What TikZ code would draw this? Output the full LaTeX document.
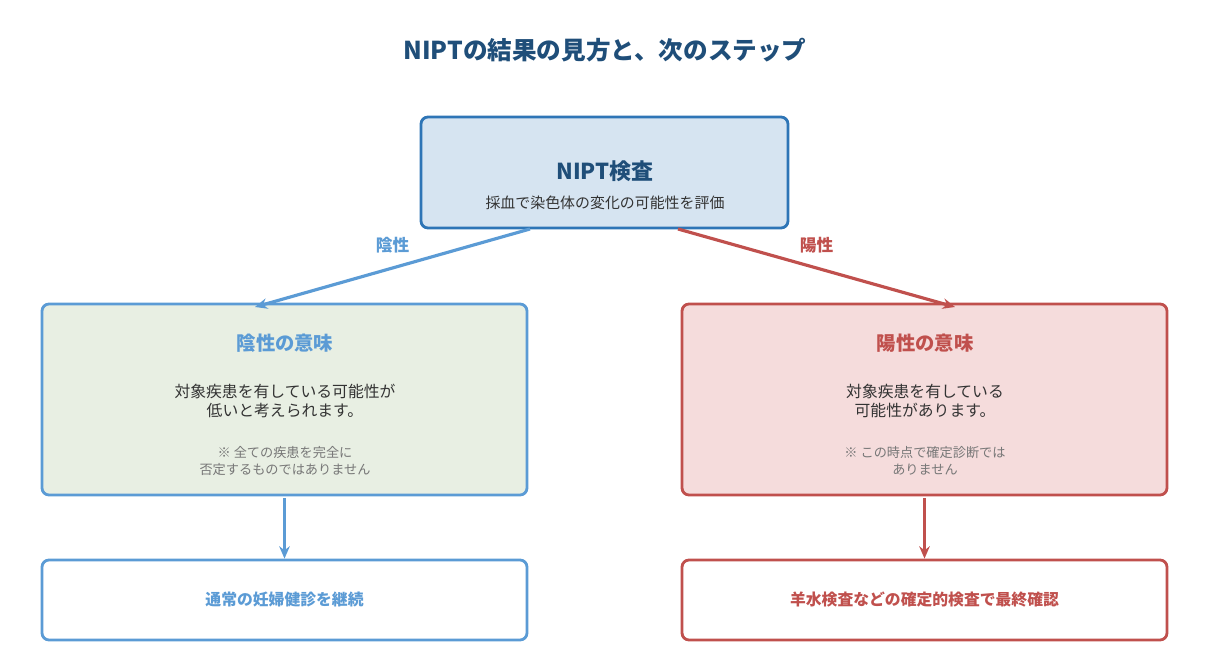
\documentclass[tikz,border=0pt]{standalone}
\usepackage{fontspec}
\setmainfont{Noto Sans CJK JP}
\usetikzlibrary{arrows.meta}
\usetikzlibrary{positioning}
\definecolor{navy}{HTML}{1F4E79}
\definecolor{blueline}{HTML}{2E75B6}
\definecolor{bluefill}{HTML}{D6E4F1}
\definecolor{negline}{HTML}{5B9BD5}
\definecolor{negfill}{HTML}{E8EFE3}
\definecolor{posline}{HTML}{C0504D}
\definecolor{posfill}{HTML}{F5DCDC}
\definecolor{txt}{HTML}{333333}
\definecolor{note}{HTML}{777777}
\begin{document}
\begin{tikzpicture}[x=0.02cm,y=-0.02cm]
\tikzset{box/.style={rectangle,rounded corners=4pt,line width=1.6pt,inner sep=0pt},
  flow/.style={line width=1.8pt,-{Stealth[length=7pt,width=6pt]}}}
\useasboundingbox (0,0) rectangle (1209,655);
\node[font=\bfseries\fontsize{14pt}{16pt}\selectfont,text=navy] (title) at (605,50) {NIPTの結果の見方と、次のステップ};
% top box
\node[box,draw=blueline,fill=bluefill,minimum width=367*0.02cm,minimum height=111*0.02cm] (nipt) at (604.5,172.5) {};
\node[font=\bfseries\fontsize{12.5pt}{14pt}\selectfont,text=navy] (niptT) at (605,171) {NIPT検査};
\node[font=\fontsize{8.5pt}{10pt}\selectfont,text=txt] (niptS) at (605,203) {採血で染色体の変化の可能性を評価};
% result boxes
\node[box,draw=negline,fill=negfill,minimum width=485*0.02cm,minimum height=191*0.02cm] (neg) at (284.5,399.5) {};
\node[box,draw=posline,fill=posfill,minimum width=485*0.02cm,minimum height=191*0.02cm] (pos) at (924.5,399.5) {};
\node[font=\bfseries\fontsize{11pt}{13pt}\selectfont,text=negline] (negT) at (285,343) {陰性の意味};
\node[font=\bfseries\fontsize{11pt}{13pt}\selectfont,text=posline] (posT) at (925,343) {陽性の意味};
\node[font=\fontsize{9pt}{11pt}\selectfont,text=txt,align=center] (negB) at (285,401) {対象疾患を有している可能性が\\低いと考えられます。};
\node[font=\fontsize{9pt}{11pt}\selectfont,text=txt,align=center] (posB) at (925,401) {対象疾患を有している\\可能性があります。};
\node[font=\fontsize{7.5pt}{9.5pt}\selectfont,text=note,align=center] (negN) at (285,461) {※ 全ての疾患を完全に\\否定するものではありません};
\node[font=\fontsize{7.5pt}{9.5pt}\selectfont,text=note,align=center] (posN) at (925,461) {※ この時点で確定診断では\\ありません};
% next steps
\node[box,draw=negline,fill=white,minimum width=485*0.02cm,minimum height=80*0.02cm,font=\bfseries\fontsize{9pt}{11pt}\selectfont,text=negline] (negS) at (284.5,600) {通常の妊婦健診を継続};
\node[box,draw=posline,fill=white,minimum width=485*0.02cm,minimum height=80*0.02cm,font=\bfseries\fontsize{9pt}{11pt}\selectfont,text=posline] (posS) at (924.5,600) {羊水検査などの確定的検査で最終確認};
% connectors
\coordinate (nL) at (530,229);
\coordinate (nR) at (678,229);
\coordinate (eL) at (255,307);
\coordinate (eR) at (955,307);
\draw[flow,draw=negline] (nL) -- (eL) node[midway,above=4pt,font=\bfseries\fontsize{9.5pt}{11pt}\selectfont,text=negline] {陰性};
\draw[flow,draw=posline] (nR) -- (eR) node[midway,above=4pt,font=\bfseries\fontsize{9.5pt}{11pt}\selectfont,text=posline] {陽性};
\draw[flow,draw=negline] (neg.south) ++(0,2) -- (negS.north);
\draw[flow,draw=posline] (pos.south) ++(0,2) -- (posS.north);
\end{tikzpicture}
\end{document}
